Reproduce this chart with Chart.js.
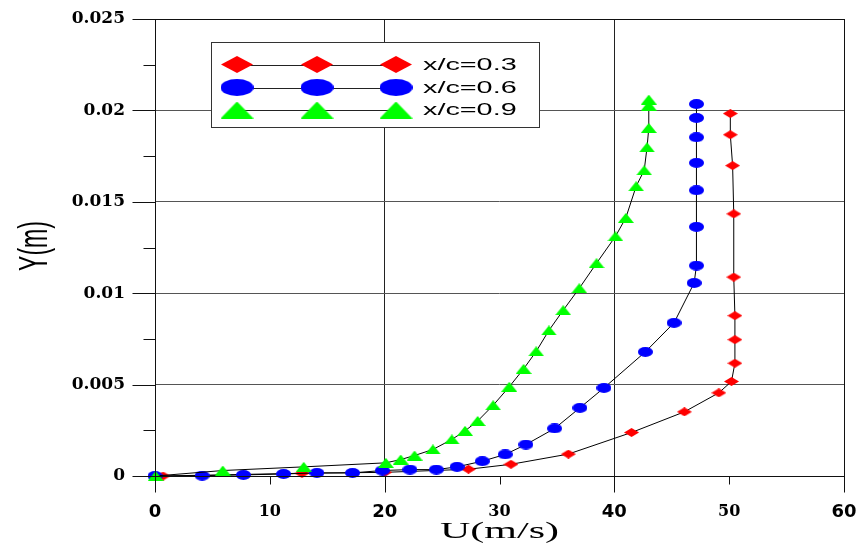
<!DOCTYPE html>
<html>
<head>
<meta charset="utf-8">
<script src="https://cdn.jsdelivr.net/npm/chart.js@4.4.1/dist/chart.umd.min.js"></script>
<style>
  html, body { margin: 0; padding: 0; background: #fff; }
  #wrap { width: 860px; height: 548px; }
</style>
</head>
<body>
<div id="wrap"><canvas id="profileChart" width="860" height="548"></canvas></div>
<script>
// Velocity profiles U(m/s) vs Y(m) at three chord stations

const seriesLabels = ['x/c=0.3', 'x/c=0.6', 'x/c=0.9'];
const xTickLabels = ['0', '10', '20', '30', '40', '50', '60'];
const yTickLabels = ['0', '0.005', '0.01', '0.015', '0.02', '0.025'];

// x/c = 0.3 (red diamonds)
const u03 = [0.7, 12.8, 20.0, 27.3, 31.0, 36.0, 41.5, 46.1, 49.1, 50.2, 50.5, 50.5, 50.5, 50.4, 50.4, 50.3, 50.1, 50.1];
const y03 = [0, 0.00015, 0.0002, 0.00037, 0.00064, 0.0012, 0.00238, 0.00351, 0.00455, 0.00517, 0.00617, 0.00746, 0.00877, 0.01088, 0.01434, 0.01698, 0.01867, 0.01983];

// x/c = 0.6 (blue circles)
const u06 = [0, 4.1, 7.7, 11.2, 14.1, 17.2, 19.8, 22.2, 24.5, 26.3, 28.5, 30.5, 32.3, 34.8, 37.0, 39.1, 42.7, 45.2, 46.95, 47.15, 47.15, 47.15, 47.15, 47.15, 47.15, 47.15];
const y06 = [0, 0.00002, 0.00006, 0.00011, 0.00017, 0.00017, 0.0003, 0.00035, 0.00035, 0.0005, 0.00081, 0.00118, 0.00172, 0.0026, 0.00373, 0.00482, 0.00679, 0.00838, 0.01056, 0.01151, 0.01363, 0.01563, 0.01713, 0.01853, 0.01959, 0.02035];

// x/c = 0.9 (green triangles)
const u09 = [0.05, 5.9, 12.95, 20.1, 21.4, 22.6, 24.2, 25.85, 27.0, 28.1, 29.45, 30.85, 32.1, 33.2, 34.3, 35.55, 36.95, 38.45, 40.1, 41.0, 41.9, 42.6, 42.85, 43.0, 43.0, 43.0];
const y09 = [0, 0.0003, 0.0005, 0.00072, 0.0009, 0.00112, 0.00145, 0.002, 0.00247, 0.00301, 0.00387, 0.00488, 0.00586, 0.00682, 0.00796, 0.00907, 0.01027, 0.01164, 0.01311, 0.01412, 0.01585, 0.01672, 0.01798, 0.01904, 0.02026, 0.02059];

function toPoints(xs, ys) {
    return xs.map((x, i) => ({ x: x, y: ys[i] }));
}

// the original figure is stretched sideways, so markers are drawn wide
function makeMarker(kind, w, h, color) {
    const c = document.createElement('canvas');
    c.width = w;
    c.height = h;
    const g = c.getContext('2d');
    g.fillStyle = color;
    g.beginPath();
    if (kind === 'diamond') {
        g.moveTo(w / 2, 0);
        g.lineTo(w, h / 2);
        g.lineTo(w / 2, h);
        g.lineTo(0, h / 2);
        g.closePath();
    } else if (kind === 'ellipse') {
        g.ellipse(w / 2, h / 2, w / 2, h / 2, 0, 0, Math.PI * 2);
    } else {
        g.moveTo(w / 2, 0);
        g.lineTo(w, h);
        g.lineTo(0, h);
        g.closePath();
    }
    g.fill();
    return c;
}

const markers = [
    { kind: 'diamond', color: '#ff0000', w: 15, h: 9, lw: 32, lh: 17 },
    { kind: 'ellipse', color: '#0000ff', w: 15, h: 10, lw: 33, lh: 17 },
    { kind: 'triangle', color: '#00ff00', w: 16, h: 10, lw: 33, lh: 17 }
];

const framePlugin = {
    id: 'frame',
    afterDraw: (chart) => {
        const { ctx, chartArea } = chart;
        const xs = chart.scales.x;
        const ys = chart.scales.y;
        const L = Math.round(chartArea.left) + 0.5;
        const R = Math.round(chartArea.right) + 0.5;
        const T = Math.round(chartArea.top) + 0.5;
        const B = Math.round(chartArea.bottom) + 0.5;
        ctx.save();
        ctx.strokeStyle = '#111';
        ctx.lineWidth = 1;
        ctx.strokeRect(L, T, R - L, B - T);

        // tick marks, long on the labelled values
        ctx.beginPath();
        ys.ticks.forEach(t => {
            const py = Math.round(ys.getPixelForValue(t.value)) + 0.5;
            const i = Math.round(t.value / 0.0025);
            const len = i % 2 === 0 ? 23 : 12;
            ctx.moveTo(L - len, py);
            ctx.lineTo(L, py);
        });
        xs.ticks.forEach(t => {
            const px = Math.round(xs.getPixelForValue(t.value)) + 0.5;
            const len = t.value % 20 === 0 ? 16 : 8;
            ctx.moveTo(px, B);
            ctx.lineTo(px, B + len);
        });
        ctx.stroke();

        // axis titles
        ctx.fillStyle = '#000';
        ctx.textAlign = 'center';
        ctx.textBaseline = 'middle';
        ctx.save();
        ctx.translate((chartArea.left + chartArea.right) / 2, 532);
        ctx.scale(1.75, 1);
        ctx.font = '24px "Liberation Serif", "Times New Roman", serif';
        ctx.fillText('U(m/s)', 0, 0);
        ctx.restore();

        ctx.save();
        ctx.translate(36, 246);
        ctx.rotate(-Math.PI / 2);
        ctx.scale(1, 1.75);
        ctx.font = '23px "Liberation Sans", Arial, sans-serif';
        ctx.fillText('Y(m)', 0, 0);
        ctx.restore();

        // legend box
        ctx.fillStyle = '#fff';
        ctx.fillRect(211.5, 42.5, 328, 85);
        ctx.strokeStyle = '#333';
        ctx.strokeRect(211.5, 42.5, 328, 85);
        const rows = [64.5, 87.5, 110];
        const cols = [237, 317, 396];
        rows.forEach((ry, k) => {
            const m = markers[k];
            ctx.strokeStyle = '#222';
            ctx.beginPath();
            ctx.moveTo(cols[0], Math.round(ry) + 0.5);
            ctx.lineTo(cols[2], Math.round(ry) + 0.5);
            ctx.stroke();
            const img = makeMarker(m.kind, m.lw, m.lh, m.color);
            cols.forEach(cx => ctx.drawImage(img, cx - m.lw / 2, ry - m.lh / 2));
            ctx.save();
            ctx.translate(423, ry + 1);
            ctx.scale(1.8, 1);
            ctx.fillStyle = '#000';
            ctx.textAlign = 'left';
            ctx.font = '16px "Liberation Sans", Arial, sans-serif';
            ctx.fillText(seriesLabels[k], 0, 0);
            ctx.restore();
        });
        ctx.restore();
    }
};

const orders = [3, 2, 1];
const datasets = [[u03, y03], [u06, y06], [u09, y09]].map((s, k) => ({
    label: seriesLabels[k],
    data: toPoints(s[0], s[1]),
    showLine: true,
    borderColor: '#000',
    borderWidth: 1,
    tension: 0,
    pointStyle: makeMarker(markers[k].kind, markers[k].w, markers[k].h, markers[k].color),
    pointRadius: 5,
    order: orders[k],
    clip: false
}));

const ctx = document.getElementById('profileChart').getContext('2d');
new Chart(ctx, {
    type: 'scatter',
    data: { datasets: datasets },
    options: {
        responsive: false,
        animation: false,
        devicePixelRatio: 1,
        layout: { padding: { top: 19, right: 16, left: 0, bottom: 0 } },
        plugins: { legend: { display: false }, tooltip: { enabled: false } },
        scales: {
            x: {
                type: 'linear',
                min: 0,
                max: 60,
                afterFit: s => {
                    s.height = 72;
                    s.paddingLeft = 0;
                    s.paddingRight = 0;
                },
                border: { display: false },
                grid: {
                    drawTicks: false,
                    lineWidth: 1,
                    color: c => (c.tick && (c.tick.value === 20 || c.tick.value === 40)) ? '#222' : 'rgba(0,0,0,0)'
                },
                ticks: {
                    stepSize: 10,
                    autoSkip: false,
                    maxRotation: 0,
                    padding: 26,
                    color: '#000',
                    callback: v => xTickLabels[Math.round(v / 10)],
                    font: c => (c.tick && c.tick.value % 20 === 0)
                        ? { family: '"DejaVu Sans", sans-serif', size: 18, weight: 'bold' }
                        : { family: '"DejaVu Serif", serif', size: 16, weight: 'bold' }
                }
            },
            y: {
                type: 'linear',
                min: 0,
                max: 0.025,
                afterFit: s => {
                    s.width = 155;
                    s.paddingTop = 0;
                    s.paddingBottom = 0;
                },
                border: { display: false },
                grid: {
                    drawTicks: false,
                    lineWidth: 1,
                    color: c => {
                        const i = Math.round(c.tick.value / 0.0025);
                        return (i % 2 === 0 && i > 0 && i < 10) ? '#555' : 'rgba(0,0,0,0)';
                    }
                },
                ticks: {
                    stepSize: 0.0025,
                    autoSkip: false,
                    padding: 30,
                    color: '#000',
                    callback: v => {
                        const i = Math.round(v / 0.0025);
                        return i % 2 === 0 ? yTickLabels[i / 2] : '';
                    },
                    font: { family: '"DejaVu Serif", serif', size: 17, weight: 'bold' }
                }
            }
        }
    },
    plugins: [framePlugin]
});
</script>
</body>
</html>
